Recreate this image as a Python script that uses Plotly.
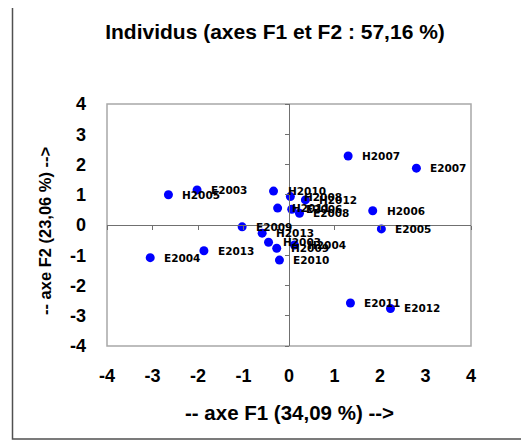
import plotly.graph_objects as go

labels = ["H2005", "E2003", "H2010", "H2008", "H2012", "H2011", "E2006", "E2008",
          "E2009", "H2013", "H2003", "H2009", "H2004", "E2010", "H2007", "E2007",
          "H2006", "E2005", "E2011", "E2012", "E2013", "E2004"]
f1 = [-2.65, -2.02, -0.34, 0.03, 0.36, -0.25, 0.06, 0.23,
      -1.03, -0.59, -0.45, -0.27, 0.12, -0.21, 1.30, 2.80,
      1.84, 2.03, 1.35, 2.23, -1.87, -3.05]
f2 = [1.00, 1.16, 1.12, 0.94, 0.83, 0.56, 0.52, 0.39,
      -0.06, -0.27, -0.57, -0.77, -0.66, -1.16, 2.28, 1.88,
      0.47, -0.13, -2.58, -2.76, -0.85, -1.08]
tick_vals = [-4, -3, -2, -1, 0, 1, 2, 3, 4]
tick_text = ["-4", "-3", "-2", "-1", "0", "1", "2", "3", "4"]

title_text = "Individus (axes F1 et F2 : 57,16 %)"
xtitle = "-- axe F1 (34,09 %) -->"
ytitle = "-- axe F2 (23,06 %) -->"

BOLD = dict(family="Liberation Sans, Arial, sans-serif", color="black", weight="bold")

# The page body has an 8px default margin; the figure is sized to fill the rest.
W, H = 521, 433
ML, MR, MT, MB = 99, 58, 96, 95
PW = W - ML - MR
PH = H - MT - MB

fig = go.Figure()
fig.add_trace(go.Scatter(
    x=f1, y=f2, mode="markers",
    marker=dict(color="#0000FF", size=9, line=dict(width=0)),
    showlegend=False, hoverinfo="skip", xaxis="x", yaxis="y"))

annotations = []
for lab, xv, yv in zip(labels, f1, f2):
    annotations.append(dict(
        x=xv, y=yv, xref="x", yref="y", text=lab,
        showarrow=False, xanchor="left", yanchor="middle", xshift=12,
        font=dict(family="DejaVu Sans, sans-serif", size=10.5, color="black",
                  weight="bold")))

annotations.append(dict(
    x=0.5, y=-66 / PH, xref="paper", yref="paper", text=xtitle,
    showarrow=False, xanchor="center", yanchor="middle",
    font=dict(size=20.5, **BOLD)))
annotations.append(dict(
    x=-62 / PW, y=0.475, xref="paper", yref="paper", text=ytitle,
    showarrow=False, xanchor="center", yanchor="middle", textangle=-90,
    font=dict(size=16.5, **BOLD)))

fig.update_layout(
    width=W, height=H,
    margin=dict(l=ML, r=MR, t=MT, b=MB),
    paper_bgcolor="white", plot_bgcolor="white",
    title=dict(text=title_text, x=(275 - 8) / W, xref="container",
               y=1 - 24 / H, yref="container", xanchor="center", yanchor="middle",
               font=dict(size=21, **BOLD)),
    xaxis=dict(range=[-4, 4], anchor="free", position=0.5,
               showgrid=False, zeroline=False, showline=True,
               linecolor="#707070", linewidth=1,
               tickvals=tick_vals, ticks="outside", ticklen=4, tickcolor="#707070",
               showticklabels=False, fixedrange=True),
    yaxis=dict(range=[-4, 4], anchor="free", position=0.5,
               showgrid=False, zeroline=False, showline=True,
               linecolor="#707070", linewidth=1,
               tickvals=tick_vals, ticks="outside", ticklen=4, tickcolor="#707070",
               showticklabels=False, fixedrange=True),
    xaxis2=dict(range=[-4, 4], overlaying="x", anchor="y", side="bottom",
                showgrid=False, zeroline=False, showline=False,
                tickvals=tick_vals, ticktext=tick_text, ticks="",
                ticklabelstandoff=17,
                tickfont=dict(size=18, **BOLD)),
    yaxis2=dict(range=[-4, 4], overlaying="y", anchor="x", side="left",
                showgrid=False, zeroline=False, showline=False,
                tickvals=tick_vals, ticktext=tick_text, ticks="",
                ticklabelstandoff=20,
                tickfont=dict(size=18, **BOLD)),
    annotations=annotations,
    shapes=[
        dict(type="rect", xref="paper", yref="paper", x0=0, x1=1, y0=0, y1=1,
             line=dict(color="#A8A8A8", width=1.5), layer="below"),
        dict(type="rect", xref="paper", yref="paper",
             x0=-94.5 / PW, x1=(PW + 70) / PW,
             y0=-93 / PH, y1=(PH + 100.8) / PH,
             line=dict(color="#505050", width=1.5), layer="below"),
    ],
)

# invisible trace so the secondary (label) axes are drawn
fig.add_trace(go.Scatter(x=[None], y=[None], xaxis="x2", yaxis="y2",
                         showlegend=False, hoverinfo="skip"))

fig.write_html("out.html")
